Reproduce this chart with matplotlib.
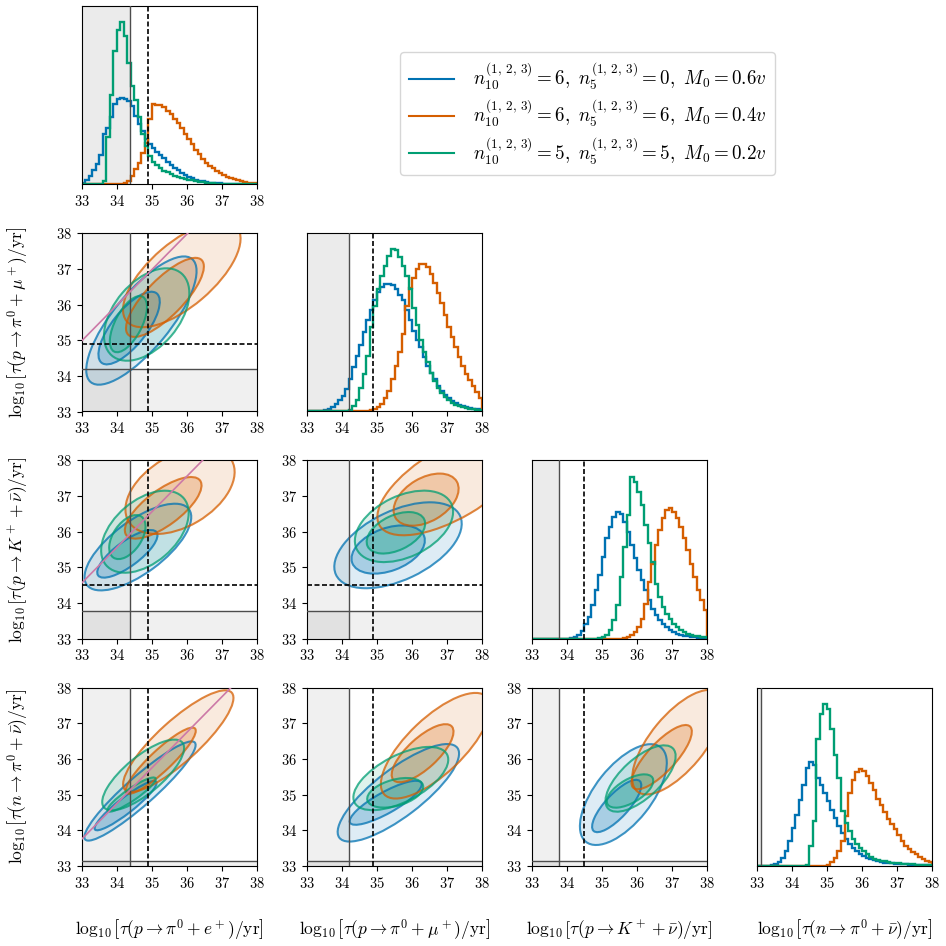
import numpy as np
import matplotlib
matplotlib.use("Agg")
import matplotlib.pyplot as plt
from matplotlib.patches import Ellipse
from matplotlib.lines import Line2D

plt.rcParams['font.family'] = 'serif'
plt.rcParams['font.serif'] = ['cmr10']
plt.rcParams['mathtext.fontset'] = 'cm'
plt.rcParams['axes.formatter.use_mathtext'] = True
plt.rcParams['axes.unicode_minus'] = False

# ---- data ----------------------------------------------------------------
axis_labels = [
    r'$\log_{10}\left[\tau(p\to\pi^0+e^+)/\mathrm{yr}\right]$',
    r'$\log_{10}\left[\tau(p\to\pi^0+\mu^+)/\mathrm{yr}\right]$',
    r'$\log_{10}\left[\tau(p\to K^++\bar{\nu})/\mathrm{yr}\right]$',
    r'$\log_{10}\left[\tau(n\to\pi^0+\bar{\nu})/\mathrm{yr}\right]$',
]
series_labels = [
    r'$n_{10}^{(1,\,2,\,3)}=6,\ n_{5}^{(1,\,2,\,3)}=0,\ M_0=0.6v$',
    r'$n_{10}^{(1,\,2,\,3)}=6,\ n_{5}^{(1,\,2,\,3)}=6,\ M_0=0.4v$',
    r'$n_{10}^{(1,\,2,\,3)}=5,\ n_{5}^{(1,\,2,\,3)}=5,\ M_0=0.2v$',
]
ticks = [33, 34, 35, 36, 37, 38]
bin_edges = np.round(np.arange(33.0, 38.05, 0.1), 2)

current_bound = [34.38, 34.2, 33.77, 33.13]
future_bound = [34.9, 34.9, 34.5, None]
pink_offset = [1.98, 1.56, 0.75]   # y = x + offset, first column rows 2-4

# histogram heights (arbitrary units), 50 bins of 0.1 from 33 to 38
hist_e_blue = [5, 12, 25, 42, 60, 88, 150, 168, 200, 240, 255, 258, 256, 250, 235,
               205, 180, 160, 135, 120, 108, 98, 88, 78, 68, 58, 50, 42, 35, 28,
               22, 18, 14, 11, 9, 7, 5, 4, 3, 3, 2, 1, 1, 1, 1, 0, 0, 0, 0, 0]
hist_e_orange = [0, 0, 0, 0, 0, 0, 0, 0, 0, 0, 0, 0, 3, 10, 25, 45, 65, 95, 125, 195,
                 240, 238, 236, 230, 220, 210, 196, 182, 168, 152, 136, 120, 104, 90, 76,
                 64, 56, 48, 40, 33, 28, 23, 18, 15, 12, 9, 7, 5, 4, 3]
hist_e_green = [0, 0, 0, 0, 0, 0, 10, 143, 268, 398, 463, 485, 445, 363, 293,
                253, 200, 150, 115, 85, 66, 58, 48, 40, 36, 30, 26, 22, 20, 17,
                14, 12, 10, 8, 6, 5, 4, 3, 2, 2, 1, 1, 0, 0, 0, 0, 0, 0, 0, 0]

hist_mu_blue = [0, 0, 1, 1, 2, 4, 7, 12, 22, 35, 45, 65, 95, 130, 165, 195, 235, 270,
                300, 330, 352, 367, 375, 375, 372, 362, 345, 330, 300, 270, 238, 210,
                190, 160, 135, 115, 95, 75, 60, 50, 40, 32, 25, 20, 16, 12, 10, 8, 7, 6]
hist_mu_orange = [0, 0, 0, 0, 0, 0, 0, 0, 0, 0, 0, 0, 0, 0, 0, 0, 0, 0, 3, 6,
                  12, 22, 40, 60, 95, 135, 175, 230, 310, 365, 395, 420, 435, 436, 425,
                  405, 380, 350, 320, 285, 250, 220, 190, 160, 135, 110, 92, 75, 58, 40]
hist_mu_green = [0, 0, 0, 0, 0, 0, 0, 0, 0, 0, 0, 0, 5, 15, 35, 70, 110, 165, 250, 310,
                 360, 400, 430, 460, 478, 475, 455, 430, 400, 360, 305, 255, 210, 175, 145,
                 115, 90, 70, 55, 42, 33, 26, 20, 16, 12, 10, 8, 6, 5, 4]

hist_K_blue = [0, 0, 0, 0, 0, 0, 0, 0, 0, 0, 0, 2, 5, 10, 22, 45, 65, 100, 145, 190,
               245, 300, 335, 365, 380, 372, 350, 320, 280, 240, 205, 175, 145, 115, 90,
               70, 55, 45, 35, 27, 21, 15, 12, 9, 7, 5, 4, 3, 3, 2]
hist_K_orange = [0, 0, 0, 0, 0, 0, 0, 0, 0, 0, 0, 0, 0, 0, 0, 0, 0, 0, 0, 0,
                 0, 0, 0, 0, 0, 0, 2, 4, 10, 20, 35, 60, 105, 170, 225,
                 280, 325, 360, 385, 390, 380, 360, 335, 300, 265, 225, 185, 145, 115, 85]
hist_K_green = [0, 0, 0, 0, 0, 0, 0, 0, 0, 0, 0, 0, 0, 0, 0, 0, 0, 0, 0, 2,
                5, 10, 25, 55, 100, 185, 275, 370, 485, 470, 440, 400, 340, 285, 230,
                165, 125, 95, 75, 58, 45, 35, 26, 19, 14, 11, 9, 7, 6, 5]

hist_n_blue = [0, 0, 0, 0, 2, 5, 12, 25, 45, 75, 115, 155, 200, 245, 295, 313, 305, 265,
               245, 220, 195, 170, 145, 120, 100, 80, 65, 55, 45, 37, 30, 25, 20, 17, 14,
               12, 10, 9, 8, 7, 6, 5, 5, 4, 4, 3, 3, 3, 2, 2]
hist_n_orange = [0, 0, 0, 0, 0, 0, 0, 0, 0, 0, 0, 0, 0, 0, 0, 0, 0, 0, 0, 0,
                 4, 12, 25, 45, 75, 150, 220, 260, 285, 292, 288, 272, 252, 228, 203,
                 183, 163, 143, 128, 112, 92, 75, 60, 50, 42, 35, 28, 22, 16, 12]
hist_n_green = [0, 0, 0, 0, 0, 0, 0, 0, 0, 0, 0, 0, 0, 0, 3, 60, 135, 385, 460, 490,
                475, 415, 335, 265, 165, 130, 105, 80, 65, 55, 45, 35, 27, 22, 19,
                16, 14, 12, 10, 9, 8, 7, 6, 5, 5, 4, 4, 3, 3, 3]

# credible regions: (x centre, y centre, semi-major, semi-minor, angle deg)
# order per panel: [blue, orange, green], each [outer 95%, inner 68%]
ell_e_mu = [[(34.70, 35.55, 2.25, 0.80, 50), (34.35, 35.34, 1.25, 0.49, 51)],
            [(35.85, 36.85, 2.05, 0.90, 40), (35.37, 36.20, 1.48, 0.52, 45)],
            [(34.85, 35.72, 1.52, 0.92, 49), (34.33, 35.45, 0.87, 0.38, 62)]]
ell_e_K = [[(34.60, 35.57, 1.80, 0.74, 36), (34.30, 35.38, 1.03, 0.35, 36)],
           [(35.80, 37.15, 1.70, 1.00, 30), (35.32, 36.67, 1.30, 0.50, 36)],
           [(34.80, 36.00, 1.45, 0.88, 40), (34.30, 35.85, 0.70, 0.40, 55)]]
ell_e_n = [[(34.66, 35.10, 2.07, 0.40, 41), (34.25, 34.69, 1.10, 0.22, 37.5)],
           [(35.75, 36.50, 2.04, 0.58, 41.7), (35.25, 35.95, 1.33, 0.30, 42.7)],
           [(34.75, 35.55, 1.44, 0.52, 39), (34.42, 35.00, 0.82, 0.17, 34)]]
ell_mu_K = [[(35.60, 35.62, 1.95, 0.97, 25), (35.32, 35.50, 1.09, 0.60, 20)],
            [(37.15, 37.38, 2.40, 1.00, 30), (36.40, 36.90, 1.01, 0.61, 30)],
            [(35.77, 36.15, 1.49, 0.86, 25), (35.54, 35.97, 0.89, 0.49, 25)]]
ell_mu_n = [[(35.61, 35.05, 2.10, 0.67, 36.8), (35.25, 34.77, 1.16, 0.30, 28.8)],
            [(36.67, 36.37, 2.00, 0.79, 43), (36.30, 36.16, 1.12, 0.43, 42)],
            [(35.68, 35.45, 1.48, 0.65, 27), (35.52, 35.05, 0.82, 0.37, 15)]]
ell_K_n = [[(35.61, 35.00, 1.70, 0.80, 51), (35.42, 34.68, 0.96, 0.33, 46.7)],
           [(37.16, 36.47, 1.80, 0.77, 50), (36.70, 36.05, 1.18, 0.40, 46.7)],
           [(36.10, 35.45, 1.25, 0.55, 42), (35.80, 35.10, 0.74, 0.33, 30)]]

hists = [[hist_e_blue, hist_e_orange, hist_e_green],
         [hist_mu_blue, hist_mu_orange, hist_mu_green],
         [hist_K_blue, hist_K_orange, hist_K_green],
         [hist_n_blue, hist_n_orange, hist_n_green]]
ells = {(1, 0): ell_e_mu, (2, 0): ell_e_K, (3, 0): ell_e_n,
        (2, 1): ell_mu_K, (3, 1): ell_mu_n, (3, 2): ell_K_n}

colors = ['#0072B2', '#D55E00', '#009E73']
pink = '#CC79A7'

# ---- figure ----------------------------------------------------------------
W = H = 946
fig = plt.figure(figsize=(W / 100, H / 100), dpi=100)


def add_panel(r, c):
    left = (81.7 + 225.0 * c) / W
    bottom = 1 - (6 + 227.2 * r + 178.3) / H
    return fig.add_axes([left, bottom, 175.6 / W, 178.3 / H])


def style_ticks(ax, show_y):
    ax.set_xlim(33, 38)
    ax.set_xticks(ticks)
    ax.tick_params(labelsize=10.5, length=3.5)
    if show_y:
        ax.set_ylim(33, 38)
        ax.set_yticks(ticks)
    else:
        ax.set_yticks([])


for r in range(4):
    for c in range(r + 1):
        ax = add_panel(r, c)
        if r == c:
            # 1D marginals
            ax.axvspan(33, current_bound[c], color='k', alpha=0.08, lw=0, zorder=0)
            ax.axvline(current_bound[c], color='0.3', lw=1.0, zorder=3)
            if future_bound[c] is not None:
                ax.axvline(future_bound[c], color='k', lw=1.2, ls=(0, (3, 1.5)), zorder=3)
            top = 0
            for k in range(3):
                ax.stairs(hists[c][k], bin_edges, color=colors[k], lw=1.7, zorder=2)
                top = max(top, max(hists[c][k]))
            ax.set_ylim(0, top * 1.1)
            style_ticks(ax, False)
        else:
            # 2D credible regions
            ax.axvspan(33, current_bound[c], color='k', alpha=0.06, lw=0, zorder=0)
            ax.axhspan(33, current_bound[r], color='k', alpha=0.06, lw=0, zorder=0)
            for k, (outer, inner) in enumerate(ells[(r, c)]):
                for par, a in ((outer, 0.13), (inner, 0.24)):
                    cx, cy, sa, sb, ang = par
                    ax.add_patch(Ellipse((cx, cy), 2 * sa, 2 * sb, angle=ang,
                                         fc=colors[k], ec='none', alpha=a, zorder=1))
                for par in (outer, inner):
                    cx, cy, sa, sb, ang = par
                    ax.add_patch(Ellipse((cx, cy), 2 * sa, 2 * sb, angle=ang,
                                         fill=False, ec=colors[k], lw=1.5, alpha=0.75,
                                         zorder=2))
            ax.axvline(current_bound[c], color='0.3', lw=1.0, zorder=3)
            ax.axhline(current_bound[r], color='0.3', lw=1.0, zorder=3)
            if future_bound[c] is not None:
                ax.axvline(future_bound[c], color='k', lw=1.2, ls=(0, (3, 1.5)), zorder=3)
            if future_bound[r] is not None:
                ax.axhline(future_bound[r], color='k', lw=1.2, ls=(0, (3, 1.5)), zorder=3)
            if c == 0:
                ax.axline((33, 33 + pink_offset[r - 1]), slope=1, color=pink, lw=1.2,
                          zorder=3)
            style_ticks(ax, True)

# axis titles
for i in range(4):
    xc = (81.7 + 225.0 * i + 175.6 / 2) / W
    fig.text(xc, 1 - 930 / H, axis_labels[i], ha='center', va='center', fontsize=12.5)
for r in range(1, 4):
    yc = 1 - (6 + 227.2 * r + 178.3 / 2) / H
    fig.text(18 / W, yc, axis_labels[r], ha='center', va='center', rotation=90,
             fontsize=12.5)

handles = [Line2D([], [], color=colors[k], lw=1.5) for k in range(3)]
fig.legend(handles, series_labels, loc='upper left',
           bbox_to_anchor=(400 / W, 1 - 52 / H), borderaxespad=0, fontsize=13.7,
           handlelength=2.4, handletextpad=1.0, borderpad=0.45, labelspacing=0.3)

fig.savefig('out.png', dpi=100)
